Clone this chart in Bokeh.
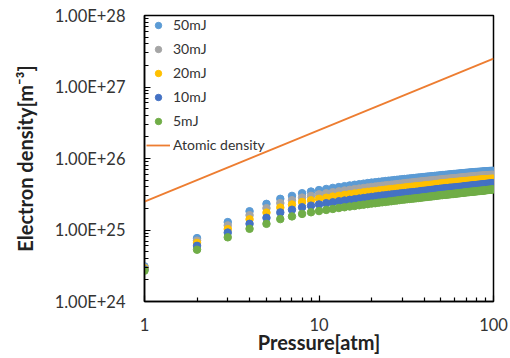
from bokeh.plotting import figure
from bokeh.models import (ColumnDataSource, FixedTicker, CustomJSTickFormatter,
                          Legend, LegendItem, Range1d)
from bokeh.embed import file_html
from bokeh.resources import INLINE

# ---------------- data ----------------
pressure = list(range(1, 101))  # atm

# electron densities, in units of 1e25 m^-3
n50 = [0.31, 0.77, 1.29, 1.83, 2.32, 2.73, 3.00, 3.27, 3.45, 3.62,
       3.75, 3.88, 3.99, 4.10, 4.20, 4.29, 4.37, 4.45, 4.53, 4.60,
       4.66, 4.72, 4.78, 4.84, 4.89, 4.94, 4.99, 5.04, 5.09, 5.13,
       5.17, 5.21, 5.25, 5.29, 5.33, 5.37, 5.41, 5.44, 5.48, 5.51,
       5.55, 5.58, 5.61, 5.64, 5.67, 5.70, 5.73, 5.76, 5.79, 5.82,
       5.85, 5.87, 5.90, 5.92, 5.95, 5.97, 6.00, 6.02, 6.05, 6.07,
       6.10, 6.12, 6.14, 6.16, 6.19, 6.21, 6.23, 6.25, 6.27, 6.29,
       6.31, 6.33, 6.35, 6.36, 6.38, 6.40, 6.41, 6.43, 6.45, 6.46,
       6.48, 6.49, 6.51, 6.52, 6.54, 6.55, 6.57, 6.58, 6.59, 6.61,
       6.62, 6.63, 6.65, 6.66, 6.67, 6.68, 6.69, 6.70, 6.71, 6.72]

n30 = [0.30, 0.71, 1.16, 1.61, 2.02, 2.38, 2.61, 2.84, 3.00, 3.15,
       3.26, 3.38, 3.47, 3.57, 3.65, 3.73, 3.80, 3.87, 3.94, 4.00,
       4.05, 4.11, 4.16, 4.21, 4.25, 4.30, 4.34, 4.38, 4.43, 4.46,
       4.52, 4.56, 4.59, 4.63, 4.66, 4.70, 4.73, 4.76, 4.80, 4.82,
       4.86, 4.88, 4.91, 4.94, 4.96, 4.99, 5.01, 5.04, 5.07, 5.09,
       5.12, 5.14, 5.16, 5.18, 5.21, 5.22, 5.25, 5.27, 5.29, 5.31,
       5.33, 5.35, 5.37, 5.39, 5.41, 5.43, 5.45, 5.47, 5.49, 5.51,
       5.53, 5.55, 5.57, 5.58, 5.60, 5.62, 5.63, 5.65, 5.67, 5.68,
       5.70, 5.71, 5.73, 5.74, 5.76, 5.76, 5.78, 5.79, 5.80, 5.82,
       5.83, 5.83, 5.85, 5.86, 5.87, 5.88, 5.89, 5.90, 5.90, 5.91]

n20 = [0.29, 0.66, 1.03, 1.41, 1.75, 2.06, 2.27, 2.47, 2.60, 2.73,
       2.83, 2.93, 3.01, 3.10, 3.17, 3.24, 3.30, 3.36, 3.42, 3.47,
       3.52, 3.57, 3.62, 3.66, 3.70, 3.74, 3.78, 3.82, 3.86, 3.89,
       3.93, 3.96, 3.99, 4.02, 4.05, 4.08, 4.11, 4.13, 4.16, 4.19,
       4.22, 4.24, 4.26, 4.29, 4.31, 4.35, 4.38, 4.41, 4.44, 4.47,
       4.50, 4.52, 4.54, 4.56, 4.58, 4.60, 4.62, 4.64, 4.66, 4.67,
       4.70, 4.71, 4.73, 4.74, 4.77, 4.78, 4.80, 4.81, 4.83, 4.84,
       4.86, 4.87, 4.89, 4.90, 4.91, 4.93, 4.95, 4.97, 4.99, 5.00,
       5.02, 5.03, 5.05, 5.05, 5.07, 5.08, 5.09, 5.10, 5.11, 5.12,
       5.13, 5.14, 5.15, 5.16, 5.17, 5.18, 5.18, 5.19, 5.20, 5.21]

n10 = [0.28, 0.60, 0.92, 1.22, 1.48, 1.76, 1.92, 2.08, 2.19, 2.28,
       2.37, 2.44, 2.52, 2.58, 2.64, 2.69, 2.75, 2.80, 2.85, 2.90,
       2.94, 2.99, 3.03, 3.06, 3.10, 3.14, 3.17, 3.20, 3.23, 3.26,
       3.28, 3.32, 3.35, 3.37, 3.39, 3.42, 3.44, 3.47, 3.51, 3.53,
       3.55, 3.58, 3.60, 3.63, 3.65, 3.68, 3.70, 3.73, 3.75, 3.78,
       3.79, 3.81, 3.83, 3.85, 3.86, 3.89, 3.90, 3.91, 3.92, 3.93,
       3.94, 3.97, 3.98, 4.00, 4.01, 4.04, 4.05, 4.07, 4.09, 4.11,
       4.12, 4.14, 4.15, 4.17, 4.18, 4.20, 4.21, 4.22, 4.23, 4.25,
       4.27, 4.28, 4.29, 4.31, 4.32, 4.33, 4.34, 4.36, 4.37, 4.39,
       4.40, 4.42, 4.43, 4.44, 4.45, 4.47, 4.48, 4.49, 4.50, 4.53]

n5 = [0.27, 0.53, 0.79, 1.04, 1.22, 1.42, 1.55, 1.68, 1.77, 1.84,
      1.91, 1.97, 2.03, 2.08, 2.13, 2.17, 2.22, 2.26, 2.30, 2.34,
      2.37, 2.41, 2.44, 2.47, 2.50, 2.53, 2.56, 2.59, 2.62, 2.65,
      2.67, 2.70, 2.72, 2.74, 2.76, 2.78, 2.80, 2.82, 2.85, 2.87,
      2.89, 2.91, 2.93, 2.95, 2.97, 2.99, 3.01, 3.03, 3.05, 3.07,
      3.08, 3.10, 3.11, 3.13, 3.14, 3.16, 3.17, 3.19, 3.20, 3.22,
      3.23, 3.25, 3.26, 3.28, 3.29, 3.31, 3.32, 3.34, 3.35, 3.37,
      3.38, 3.39, 3.40, 3.42, 3.43, 3.44, 3.45, 3.46, 3.47, 3.48,
      3.50, 3.51, 3.52, 3.53, 3.54, 3.55, 3.56, 3.57, 3.58, 3.60,
      3.61, 3.62, 3.63, 3.64, 3.65, 3.66, 3.67, 3.68, 3.69, 3.71]

atomic_p = [1, 100]
atomic_n = [2.5e25, 2.5e27]

series_labels = ["50mJ", "30mJ", "20mJ", "10mJ", "5mJ"]
series_values = [n50, n30, n20, n10, n5]
series_colors = ["#5B9BD5", "#A5A5A5", "#FFC000", "#4472C4", "#70AD47"]

x_major = [1, 10, 100]
y_major = [1e24, 1e25, 1e26, 1e27, 1e28]
x_title = "Pressure[atm]"
y_title = "Electron density[m\u207b\u00b3]"

# ---------------- figure ----------------
FONT = "Lato"
p = figure(width=510, height=358, x_axis_type="log", y_axis_type="log",
           x_range=Range1d(1, 100), y_range=Range1d(1e24, 1e28),
           output_backend="svg", toolbar_location=None,
           min_border_left=144, min_border_right=17, min_border_top=15,
           min_border_bottom=57, frame_width=349, frame_height=286)
p.background_fill_color = "white"
p.border_fill_color = "white"
p.outline_line_color = "black"
p.outline_line_width = 1.5
p.xgrid.visible = False
p.ygrid.visible = False

x_minor = [m * d for d in [1, 10] for m in range(2, 10)]
y_minor = [m * d for d in y_major[:-1] for m in range(2, 10)]
p.xaxis.ticker = FixedTicker(ticks=x_major, minor_ticks=x_minor)
p.yaxis.ticker = FixedTicker(ticks=y_major, minor_ticks=y_minor)
p.xaxis.formatter = CustomJSTickFormatter(code="return tick.toFixed(0);")
p.yaxis.formatter = CustomJSTickFormatter(code="return tick.toExponential(2).toUpperCase();")

for ax in (p.xaxis, p.yaxis):
    ax.axis_line_color = "black"
    ax.axis_line_width = 1.5
    ax.major_tick_in = 6
    ax.major_tick_out = 0
    ax.minor_tick_in = 4
    ax.minor_tick_out = 0
    ax.major_tick_line_color = "black"
    ax.minor_tick_line_color = "black"
    ax.major_tick_line_width = 1.2
    ax.minor_tick_line_width = 1.2
    ax.major_label_text_font = FONT
    ax.major_label_text_font_size = "16.5px"
    ax.major_label_text_color = "#333333"
    ax.axis_label_text_font = FONT
    ax.axis_label_text_font_style = "bold"
    ax.axis_label_text_font_size = "20px"
    ax.axis_label_text_color = "#222222"

p.xaxis.axis_label = x_title
p.yaxis.axis_label = y_title
p.xaxis.major_label_standoff = 16
p.xaxis.axis_label_standoff = -4
p.yaxis.major_label_standoff = 19
p.yaxis.axis_label_standoff = 15

items = []
for lab, vals, col in zip(series_labels, series_values, series_colors):
    src = ColumnDataSource(dict(x=pressure, y=[v * 1e25 for v in vals]))
    r = p.scatter("x", "y", source=src, size=7.5, fill_color=col, line_color=col)
    items.append(LegendItem(label=lab, renderers=[r]))

r_line = p.line(atomic_p, atomic_n, line_color="#ED7D31", line_width=1.8)
items.append(LegendItem(label="Atomic density", renderers=[r_line]))

legend = Legend(items=items, location=(2, 148), orientation="vertical",
                background_fill_alpha=0, border_line_alpha=0,
                padding=0, margin=0, spacing=7,
                glyph_width=24, glyph_height=16, label_height=16,
                label_standoff=3, label_text_font=FONT,
                label_text_font_size="14px", label_text_color="#333333")
p.add_layout(legend, "center")

open("out.html", "w").write(file_html(p, INLINE))
